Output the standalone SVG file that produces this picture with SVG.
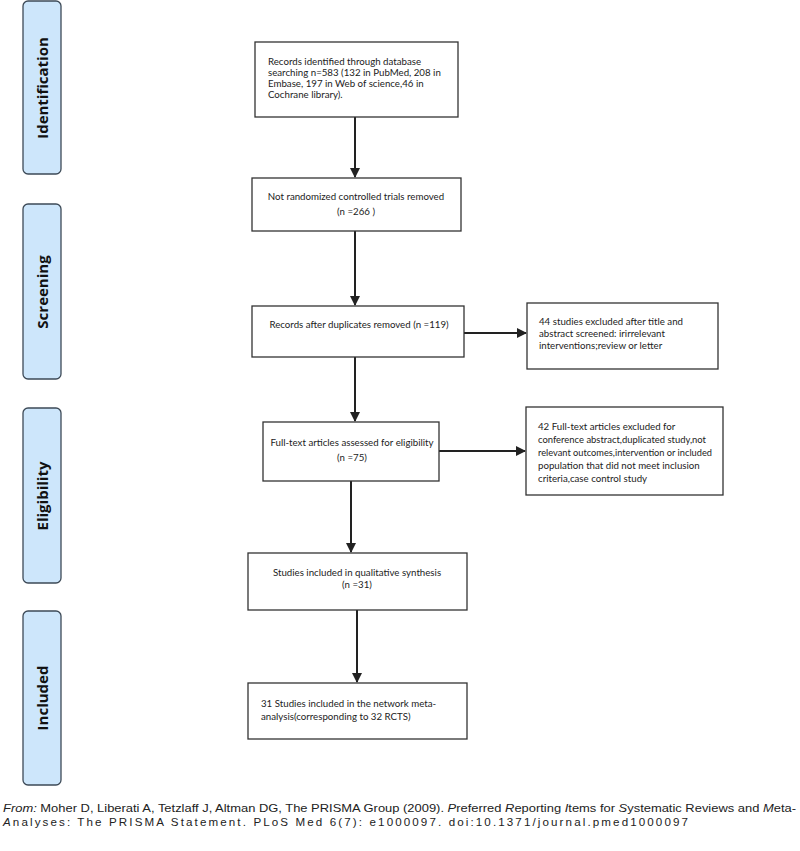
<svg xmlns="http://www.w3.org/2000/svg" width="800" height="851" viewBox="0 0 800 851">
<style>
.bg{fill:#ffffff}
.phase rect{fill:#cde6fb;stroke:#3d4a57;stroke-width:1.3}
.phase text{font-family:"Open Sans","DejaVu Sans",sans-serif;font-weight:bold;font-size:15px;fill:#111;text-anchor:middle;dominant-baseline:central}
.box rect{fill:#fff;stroke:#333;stroke-width:1.3}
.box text{font-family:Lato,"Open Sans",sans-serif;font-size:9.7px;fill:#222}
.c{text-anchor:middle}
.conn line{stroke:#222;stroke-width:2}
.foot{font-family:"Liberation Sans",Arial,sans-serif;font-size:11.6px;fill:#222}
</style>
<defs>
<marker id="ah" viewBox="0 0 10 10" refX="9" refY="5" markerWidth="5" markerHeight="5" orient="auto" markerUnits="strokeWidth">
<path d="M0,0 L10,5 L0,10 z" fill="#222"/>
</marker>
</defs>
<rect class="bg" x="0" y="0" width="800" height="851"/>

<g id="phase-identification" class="phase"><rect x="23" y="1" width="38" height="173" rx="5"/><text transform="translate(42,88) rotate(-90)">Identification</text></g>
<g id="phase-screening" class="phase"><rect x="23" y="204" width="38" height="175" rx="5"/><text transform="translate(42,292) rotate(-90)">Screening</text></g>
<g id="phase-eligibility" class="phase"><rect x="23" y="408" width="38" height="175" rx="5"/><text transform="translate(42,496) rotate(-90)">Eligibility</text></g>
<g id="phase-included" class="phase"><rect x="23" y="611" width="38" height="174" rx="5"/><text transform="translate(42,698) rotate(-90)">Included</text></g>

<g id="connectors" class="conn">
<line x1="355" y1="117" x2="355" y2="177" marker-end="url(#ah)"/>
<line x1="355" y1="231" x2="355" y2="305" marker-end="url(#ah)"/>
<line x1="464" y1="333" x2="526" y2="333" marker-end="url(#ah)"/>
<line x1="355" y1="357" x2="355" y2="421" marker-end="url(#ah)"/>
<line x1="439" y1="451" x2="525" y2="451" marker-end="url(#ah)"/>
<line x1="351" y1="481" x2="351" y2="552" marker-end="url(#ah)"/>
<line x1="357" y1="610" x2="357" y2="682" marker-end="url(#ah)"/>
</g>

<g id="records-identified" class="box"><rect x="255" y="42" width="203" height="75"/>
<text x="268" y="65">Records identified through database</text>
<text x="268" y="76">searching n=583 (132 in PubMed, 208 in</text>
<text x="268" y="87">Embase, 197 in Web of science,46 in</text>
<text x="268" y="98">Cochrane library).</text></g>

<g id="not-rct-removed" class="box"><rect x="252" y="178" width="209" height="53"/>
<text class="c" x="356" y="200">Not randomized controlled trials removed</text>
<text class="c" x="356" y="215">(n =266 )</text></g>

<g id="after-duplicates" class="box"><rect x="252" y="306" width="212" height="51"/>
<text class="c" x="359" y="328">Records after duplicates removed (n =119)</text></g>

<g id="excluded-44" class="box"><rect x="527" y="303" width="191" height="66"/>
<text x="539" y="325">44 studies excluded after title and</text>
<text x="539" y="337">abstract screened: irirrelevant</text>
<text x="539" y="349">interventions;review or letter</text></g>

<g id="full-text-assessed" class="box"><rect x="263" y="422" width="176" height="59"/>
<text class="c" x="352" y="446">Full-text articles assessed for eligibility</text>
<text class="c" x="352" y="461">(n =75)</text></g>

<g id="excluded-42" class="box"><rect x="526" y="407" width="197" height="88"/>
<text x="538" y="430">42 Full-text articles excluded for</text>
<text x="538" y="443" textLength="168" lengthAdjust="spacingAndGlyphs">conference abstract,duplicated study,not</text>
<text x="538" y="456" textLength="174" lengthAdjust="spacingAndGlyphs">relevant outcomes,intervention or included</text>
<text x="538" y="469">population that did not meet inclusion</text>
<text x="538" y="482">criteria,case control study</text></g>

<g id="qualitative-synthesis" class="box"><rect x="248" y="553" width="219" height="57"/>
<text class="c" x="357" y="576">Studies included in qualitative synthesis</text>
<text class="c" x="357" y="588">(n =31)</text></g>

<g id="network-meta" class="box"><rect x="248" y="683" width="219" height="56"/>
<text x="261" y="707">31 Studies included in the network meta-</text>
<text x="261" y="720">analysis(corresponding to 32 RCTS)</text></g>

<g id="footer">
<text class="foot" x="3" y="812" textLength="793" lengthAdjust="spacingAndGlyphs"><tspan font-style="italic">From:</tspan>  Moher D, Liberati A, Tetzlaff J, Altman DG, The PRISMA Group (2009). <tspan font-style="italic">P</tspan>referred <tspan font-style="italic">R</tspan>eporting <tspan font-style="italic">I</tspan>tems for <tspan font-style="italic">S</tspan>ystematic Reviews and <tspan font-style="italic">M</tspan>eta-</text>
<text class="foot" x="3" y="826" textLength="685" lengthAdjust="spacing"><tspan font-style="italic">A</tspan>nalyses: The PRISMA Statement. PLoS Med 6(7): e1000097. doi:10.1371/journal.pmed1000097</text>
</g>
</svg>
